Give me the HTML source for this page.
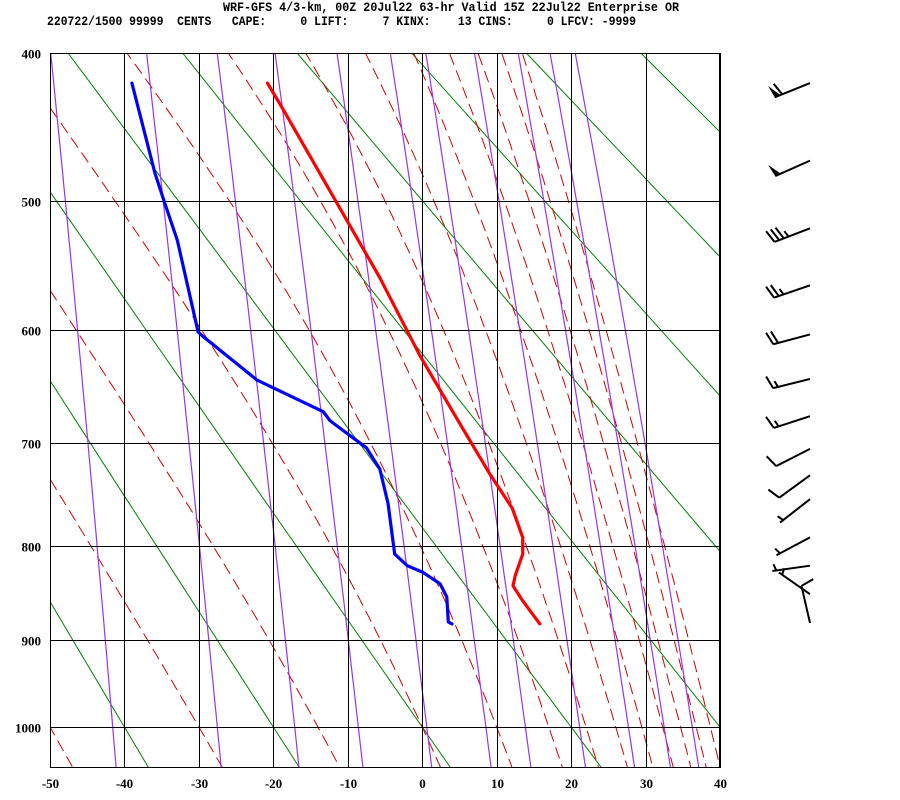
<!DOCTYPE html>
<html><head><meta charset="utf-8"><style>
html,body{margin:0;padding:0;background:#fff;width:900px;height:800px;overflow:hidden}
svg{display:block}
.hdr{font-family:"Liberation Mono",monospace;font-weight:bold;font-size:13px}
.lbl{font-family:"Liberation Serif",serif;font-weight:bold;font-size:13px}
</style></head><body>
<svg id="chart" width="900" height="800" viewBox="0 0 900 800">
<defs><clipPath id="plotclip"><rect x="50" y="53" width="670" height="715"/></clipPath></defs>
<text class="hdr" x="223" y="11" textLength="456" lengthAdjust="spacingAndGlyphs">WRF-GFS 4/3-km, 00Z 20Jul22 63-hr Valid 15Z 22Jul22 Enterprise OR</text>
<text class="hdr" x="47" y="25" textLength="589" lengthAdjust="spacingAndGlyphs" xml:space="preserve">220722/1500 99999  CENTS   CAPE:     0 LIFT:     7 KINX:    13 CINS:     0 LFCV: -9999</text>
<g id="bg" clip-path="url(#plotclip)"></g>
<g id="grid"></g>
<g id="profiles" clip-path="url(#plotclip)"></g>
<g id="barbs"></g>
<g id="labels"></g>
</svg>
<script>
// ---- data ----
const pressureTicks = [400,500,600,700,800,900,1000];
const tempTicks = [-50,-40,-30,-20,-10,0,10,20,30,40];
const dryAdiabatsC = [-60,-40,-20,0,20,40,60,80,100,120,140,160];
const moistStartT1000 = [-50,-30,-14,0,10,17,22,26,29.5,32.3,34.7,36.8,38.7];
const mixingRatios = [0.1,0.4,1,2,4,7,10,16,24,32,40];
const tempP = [419,437,558,622,679,729,762,791,808,830,841,856,882];
const tempT = [-20.8,-18.6,-5.7,-0.3,4.8,9.1,12.1,13.5,13.5,12.5,12.2,13.4,15.8];
const dewP = [419,480,501,529,602,606,643,671,679,704,724,757,785,808,820,827,839,853,880,882];
const dewT = [-39.0,-35.9,-34.6,-32.9,-30.1,-29.4,-22.2,-13.3,-12.4,-7.5,-5.7,-4.6,-4.1,-3.7,-2.0,0.1,2.4,3.3,3.5,4.0];
const windP = [419,471,520,564,604,642,675,705,730,753,791,820,850,881];
const windDir = [248,246,249,251,255,256,252,243,234,232,242,262,305,347];
const windSpd = [60,50,35,25,20,15,15,10,10,5,5,5,5,10];

// ---- axes ----
const K=0.286, X0=50, X1=720, Y0=53, YSPAN=674;
const pk400=Math.pow(400,K), pk1000=Math.pow(1000,K);
function yOf(p){return Y0+YSPAN*(Math.pow(p,K)-pk400)/(pk1000-pk400);}
function xOf(t){return X0+(t+50)*(X1-X0)/90;}
const NS='http://www.w3.org/2000/svg';
function mk(tag,attrs,parent){const e=document.createElementNS(NS,tag);for(const k in attrs)e.setAttribute(k,attrs[k]);parent.appendChild(e);return e;}
function pathFrom(pts){return pts.map((q,i)=>(i?'L':'M')+xOf(q[1]).toFixed(1)+','+yOf(q[0]).toFixed(1)).join('');}
const bg=document.getElementById('bg'),grid=document.getElementById('grid'),prof=document.getElementById('profiles'),barbsG=document.getElementById('barbs'),labels=document.getElementById('labels');

dryAdiabatsC.forEach(th=>{
  const pts=[];for(let p=380;p<=1060;p+=20){pts.push([p,(th+273.15)*Math.pow(p/1000,K)-273.15]);}
  const e=mk('path',{d:pathFrom(pts),fill:'none',stroke:'#008000','stroke-width':1},bg);
  
  
});
function rs(tc,p){const e=6.112*Math.exp(17.67*tc/(tc+243.5));return 0.622*e/(p-e);}
function dTdp(tc,p){const T=tc+273.15,r=rs(tc,p),Rd=287,cp=1004,L=2.5e6;return (Rd*T+L*r)/(p*(cp+L*L*r*0.622/(Rd*T*T)));}
moistStartT1000.forEach(t0=>{
  const up=[];let t=t0;for(let p=1000;p>=380;p-=2){up.push([p,t]);t-=dTdp(t,p)*2;}
  const dn=[];t=t0;for(let p=1000;p<=1060;p+=2){dn.push([p,t]);t+=dTdp(t,p)*2;}
  const pts=up.reverse().concat(dn.slice(1));
  const e=mk('path',{d:pathFrom(pts),fill:'none',stroke:'#d00000','stroke-width':1,'stroke-dasharray':'12,6'},bg);
  
  
});
mixingRatios.forEach(w=>{
  const pts=[];for(let p=380;p<=1060;p+=10){const e=w*p/(622+w);const l=Math.log(e/6.112);pts.push([p,243.5*l/(17.67-l)]);}
  const e=mk('path',{d:pathFrom(pts),fill:'none',stroke:'#9933ee','stroke-width':1.2},bg);
  
  
});
pressureTicks.forEach(p=>{
  const y=Math.round(yOf(p))+0.5;
  const l=mk('line',{x1:X0,x2:X1,y1:y,y2:y,stroke:'#000','stroke-width':1},grid);
  
  
  const t=mk('text',{x:41,y:y+5,'text-anchor':'end',class:'lbl'},labels);t.textContent=p;
  
  
});
tempTicks.forEach(tc=>{
  const x=Math.round(xOf(tc))+0.5;
  const l=mk('line',{x1:x,x2:x,y1:Y0,y2:768,stroke:'#000','stroke-width':1},grid);
  
  
  const t=mk('text',{x:x,y:788,'text-anchor':'middle',class:'lbl'},labels);t.textContent=tc;
  
  
});
const fr=mk('rect',{x:50.5,y:53.5,width:669,height:714,fill:'none',stroke:'#000','stroke-width':1},grid);


const tp=mk('path',{d:pathFrom(tempP.map((p,i)=>[p,tempT[i]])),fill:'none',stroke:'#ff0000','stroke-width':3.2,'stroke-linejoin':'round','stroke-linecap':'round'},prof);


const dp=mk('path',{d:pathFrom(dewP.map((p,i)=>[p,dewT[i]])),fill:'none',stroke:'#0000ff','stroke-width':3.2,'stroke-linejoin':'round','stroke-linecap':'round'},prof);


windP.forEach((p,i)=>{
  const g=mk('g',{},barbsG);
  
  
  const bx=810,by=yOf(p),L=38,d=windDir[i]*Math.PI/180;
  const sx=Math.sin(d),sy=-Math.cos(d);
  const tx=bx+sx*L,ty=by+sy*L;
  mk('line',{x1:bx,y1:by,x2:tx,y2:ty,stroke:'#000','stroke-width':2},g);
  const nx=-sy,ny=sx;
  const nsx=(ny<0)?nx:-nx, nsy=(ny<0)?ny:-ny;
  let s=windSpd[i],pos=0;const FL=13;
  while(s>=50){const ax=tx-sx*pos,ay=ty-sy*pos;
    mk('polygon',{points:`${ax},${ay} ${ax+nsx*FL+sx*2},${ay+nsy*FL+sy*2} ${ax-sx*6},${ay-sy*6}`,fill:'#000'},g);pos+=8;s-=50;}
  while(s>=10){const ax=tx-sx*pos,ay=ty-sy*pos;
    mk('line',{x1:ax,y1:ay,x2:ax+nsx*FL+sx*4,y2:ay+nsy*FL+sy*4,stroke:'#000','stroke-width':2},g);pos+=5;s-=10;}
  if(s>=5){if(pos===0)pos=4;const ax=tx-sx*pos,ay=ty-sy*pos;
    mk('line',{x1:ax,y1:ay,x2:ax+nsx*FL*0.5+sx*2,y2:ay+nsy*FL*0.5+sy*2,stroke:'#000','stroke-width':2},g);}
});
</script>
</body></html>
